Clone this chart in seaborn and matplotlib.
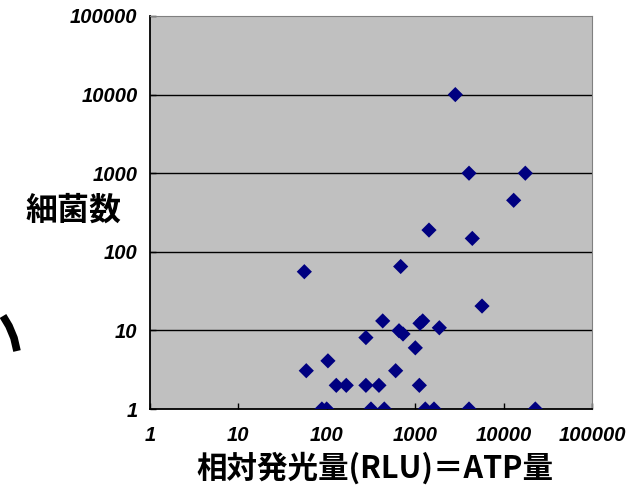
import matplotlib
matplotlib.use('Agg')
import matplotlib.pyplot as plt
from matplotlib.lines import Line2D
import seaborn as sns
import pandas as pd

# RLU (x) vs bacteria count (y)
rlu = [2843, 4062, 17600, 13000, 1432, 4425, 685, 55.7,
       5700, 429, 1133, 1216, 1875, 656, 728, 277, 1003,
       103, 58.6, 601,
       128, 166, 277, 389, 1114,
       88, 99.7, 316, 447, 1301, 1632, 4062, 22850]
bacteria = [10000, 1000, 1000, 452, 189, 148, 65, 55.8,
            20.4, 13.2, 12.3, 13.2, 10.8, 9.9, 9.0, 8.1, 6.0,
            4.1, 3.07, 3.07,
            2, 2, 2, 2, 2,
            1, 1, 1, 1, 1, 1, 1, 1]
ticks = [1, 10, 100, 1000, 10000, 100000]
tick_labels = ['1', '10', '100', '1000', '10000', '100000']

df = pd.DataFrame({'rlu': rlu, 'bacteria': bacteria})

sns.set_style('ticks')
plt.rcParams['font.family'] = ['Liberation Sans', 'DejaVu Sans']
plt.rcParams['text.color'] = 'black'
plt.rcParams['xtick.labelcolor'] = 'black'
plt.rcParams['ytick.labelcolor'] = 'black'

W, H = 635, 486
fig = plt.figure(figsize=(W / 100, H / 100), dpi=100)
ax = fig.add_axes([150 / W, 1 - 409 / H, 442 / W, 393 / H])
ax.set_facecolor('#C0C0C0')

sns.scatterplot(data=df, x='rlu', y='bacteria', ax=ax, marker='D',
                color='#000080', edgecolor='none', s=60, zorder=3,
                legend=False)

ax.set_xscale('log')
ax.set_yscale('log')
ax.set_xlim(1, 100000)
ax.set_ylim(1, 100000)
ax.set_xticks(ticks)
ax.set_xticklabels(tick_labels)
ax.set_yticks(ticks)
ax.set_yticklabels(tick_labels)
ax.minorticks_off()

# horizontal gridlines only
for t in ticks[1:-1]:
    ax.axhline(t, color='black', lw=1, zorder=1)

for lab in ax.get_xticklabels() + ax.get_yticklabels():
    lab.set_fontweight('bold')
    lab.set_fontstyle('italic')
    lab.set_fontsize(14.5)
    lab.set_color('black')

ax.tick_params(axis='both', direction='in', length=4, width=1, color='black')
ax.tick_params(axis='x', pad=12)
ax.tick_params(axis='y', pad=9)

for side in ['top', 'right']:
    ax.spines[side].set_color('#808080')
for side in ['left', 'bottom']:
    ax.spines[side].set_color('black')
    ax.spines[side].set_linewidth(1.3)

cjk = ['Noto Sans CJK JP', 'DejaVu Sans']
ax.set_xlabel('相対発光量(RLU)＝ATP量', fontsize=22, fontweight='bold',
              family=cjk, color='black', va='center')
ax.xaxis.set_label_coords(0.509, -0.150)
ax.set_ylabel('細菌数', fontsize=23, fontweight='bold', family=cjk, rotation=0,
              ha='center', va='center', color='black')
ax.yaxis.set_label_coords(-0.172, 0.504)

# stray curved stroke at left edge
px = [3, 9, 14, 17]
py = [316, 326, 338, 351]
fig.add_artist(Line2D([x / W for x in px], [1 - y / H for y in py],
                      color='black', lw=5.5, solid_capstyle='butt'))

fig.savefig('out.png', dpi=100)
